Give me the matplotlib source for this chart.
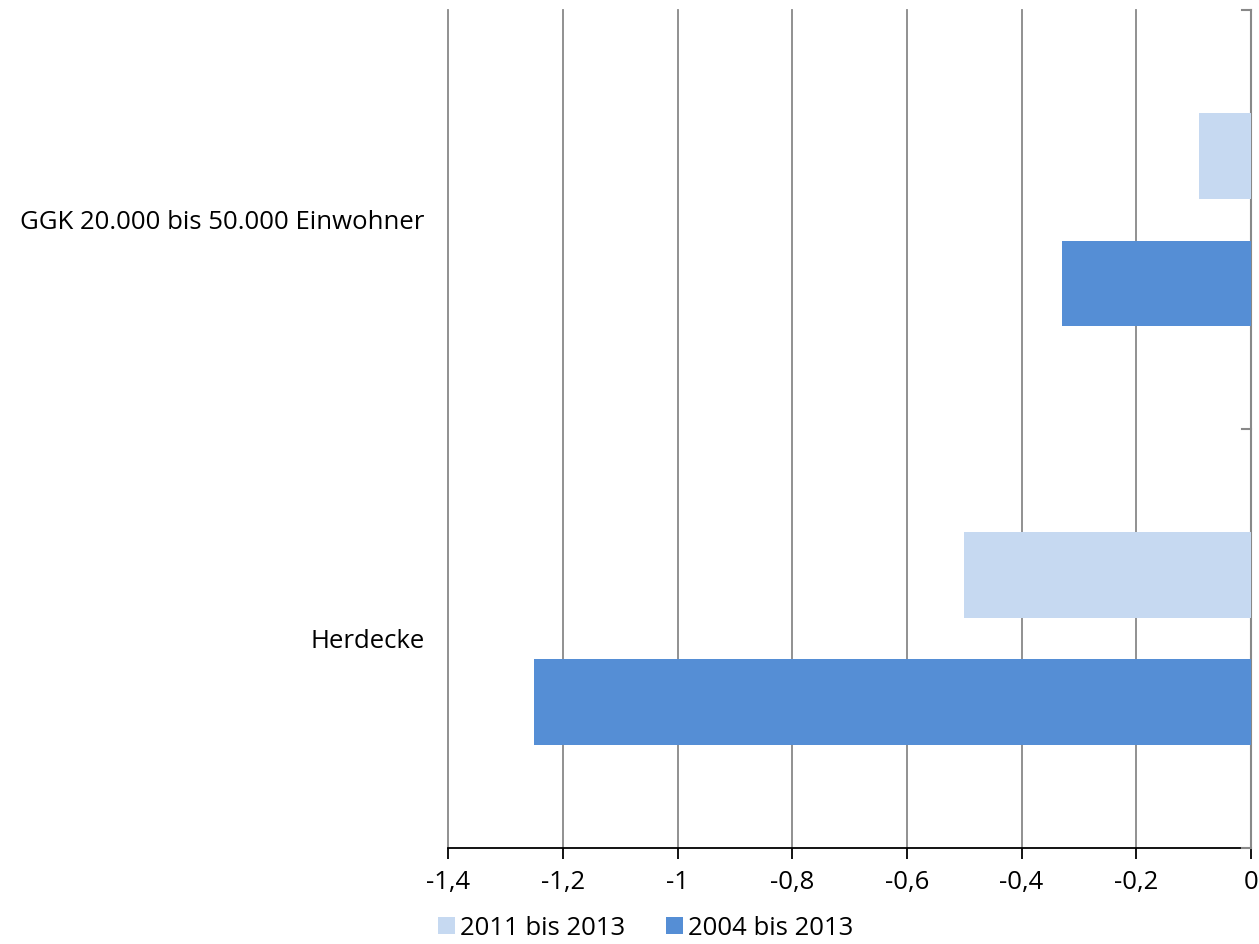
import matplotlib.pyplot as plt
from matplotlib.ticker import FuncFormatter

categories = ["Herdecke", "GGK 20.000 bis 50.000 Einwohner"]
series_names = ["2011 bis 2013", "2004 bis 2013"]
vals_2011 = [-0.50, -0.09]
vals_2004 = [-1.25, -0.33]
xticks = [-1.4, -1.2, -1.0, -0.8, -0.6, -0.4, -0.2, 0.0]

plt.rcParams['font.family'] = ['Open Sans', 'DejaVu Sans']

fig = plt.figure(figsize=(12.59, 9.44), dpi=100)
ax = fig.add_axes([0.356, 0.1017, 0.9936 - 0.356, 0.989 - 0.1017])

pos = list(range(len(categories)))
off = 0.152
h = 0.205
ax.barh([p + off for p in pos], vals_2011, height=h, color="#C6D9F1", label=series_names[0], zorder=3)
ax.barh([p - off for p in pos], vals_2004, height=h, color="#558ED5", label=series_names[1], zorder=3)

ax.set_xlim(-1.4, 0)
ax.set_ylim(-0.5, len(categories) - 0.5)
ax.set_xticks(xticks)
ax.xaxis.set_major_formatter(FuncFormatter(lambda v, _: ("%g" % round(v, 1)).replace(".", ",")))
ax.tick_params(axis="x", direction="out", length=8, width=1.3, color="black", labelsize=18.5, pad=8)
ax.grid(axis="x", color="#888888", linewidth=1.3, zorder=0)
for gl in ax.get_xgridlines():
    gl.set_clip_on(False)

ax.set_yticks(pos)
ax.set_yticklabels(categories, fontsize=18.5)
ax.tick_params(axis="y", length=0, pad=17)
ax.yaxis.set_ticks_position("none")

for s in ["top", "left"]:
    ax.spines[s].set_visible(False)
ax.spines["bottom"].set_color("black")
ax.spines["bottom"].set_linewidth(1.3)
ax.spines["right"].set_color("#888888")
ax.spines["right"].set_linewidth(1.5)

# inward ticks on the zero axis at category borders
for yb in [-0.5, 0.5, 1.5]:
    ax.plot([-0.015, 0], [yb, yb], color="#888888", linewidth=1.5, clip_on=False, zorder=4)

fig.legend(loc="lower center", bbox_to_anchor=(0.513, -0.021), ncol=2, frameon=False,
           fontsize=18.5, handlelength=0.65, handleheight=0.65, handletextpad=0.2, columnspacing=1.6)

fig.savefig("out.png", dpi=100)
